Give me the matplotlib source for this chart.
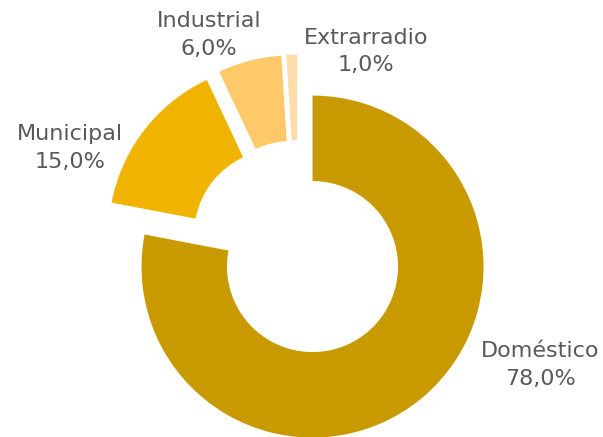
import matplotlib.pyplot as plt

# Data
categories = ['Doméstico', 'Municipal', 'Industrial', 'Extrarradio']
shares = [78.0, 15.0, 6.0, 1.0]
colors = ['#C99900', '#F0B400', '#FFC869', '#FFDDAA']
explode = [0.135, 0.135, 0.135, 0.135]

# Label positions (data units, radius = 1)
label_pos = [(1.42, -0.68), (-1.33, 0.59), (-0.52, 1.25), (0.40, 1.155)]

fig = plt.figure(figsize=(6.03, 4.37), dpi=100)
ax = fig.add_axes([0, 0, 1, 1])

wedges, _ = ax.pie(shares, colors=colors, explode=explode, startangle=90,
                   counterclock=False, radius=1,
                   wedgeprops=dict(width=0.5, linewidth=0))

for name, val, (x, y) in zip(categories, shares, label_pos):
    ax.text(x, y, f'{name}\n{val:.1f}%'.replace('.', ','), ha='center', va='center',
            fontsize=16, color='#595959', linespacing=1.45)

# pixel scale: radius 1 -> 171 px, pie centre at (297.8, 248.8)
ax.set_xlim(-297.8 / 171, (603 - 297.8) / 171)
ax.set_ylim(-(437 - 248.8) / 171, 248.8 / 171)
ax.set_aspect('auto')
ax.axis('off')

fig.savefig('out.png', dpi=100)
